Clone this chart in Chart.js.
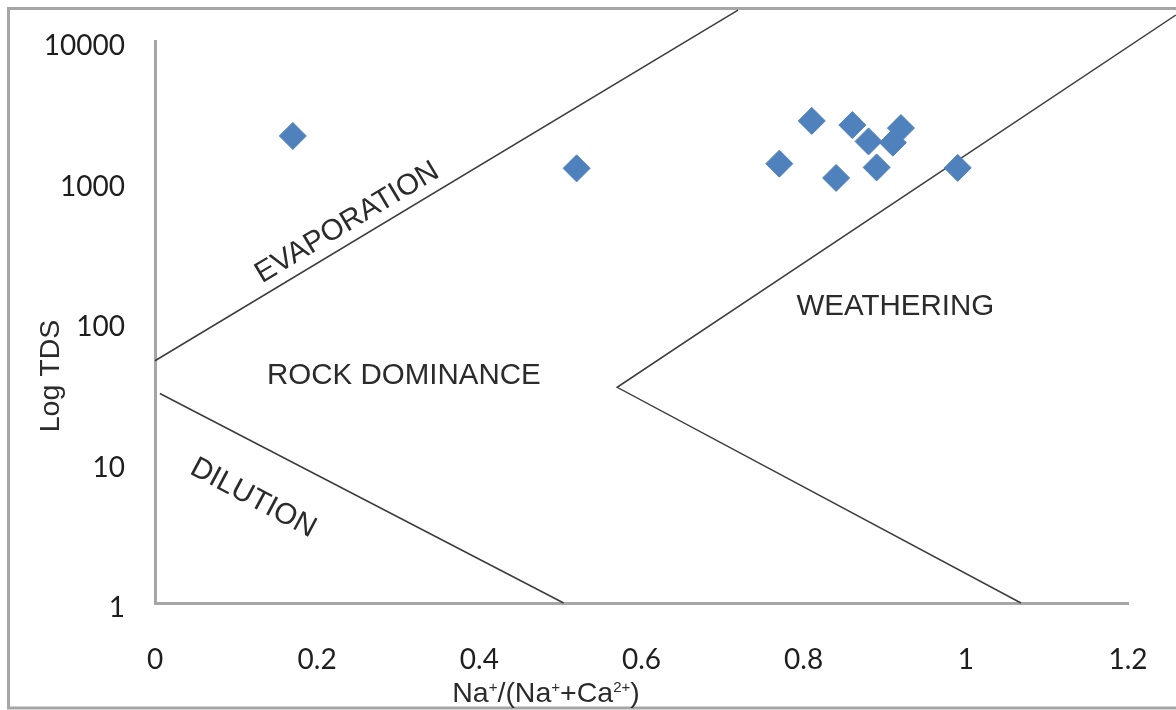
<!DOCTYPE html>
<html>
<head>
<meta charset="utf-8">
<script src="https://cdn.jsdelivr.net/npm/chart.js@4.4.1/dist/chart.umd.min.js"></script>
<style>
  html, body { margin: 0; padding: 0; background: #fff; }
  #wrap { width: 1176px; height: 710px; }
</style>
</head>
<body>
<div id="wrap"><canvas id="gibbs" width="1176" height="710"></canvas></div>
<script>
// Sample points (Na+/(Na+ + Ca2+), TDS)
const ratioValues = [0.17, 0.52, 0.77, 0.81, 0.86, 0.88, 0.84, 0.89, 0.92, 0.91, 0.99];
const tdsValues = [2110, 1240, 1340, 2700, 2520, 1930, 1060, 1260, 2400, 1890, 1250];

// Boundary lines of the Gibbs diagram
const evaporationLine = [[0, 53], [0.719, 16600]];
const dilutionLine = [[0.006, 31], [0.504, 1]];
const weatheringLine = [[1.259, 15300], [0.570, 34.3], [1.068, 1]];

// Axis ticks
const xTicks = [0, 0.2, 0.4, 0.6, 0.8, 1, 1.2];
const yTicks = [1, 10, 100, 1000, 10000];

// Zone labels: text, x, y, angle (deg)
const zoneLabels = [
  ["ROCK DOMINANCE", 0.307, 41.7, 0],
  ["WEATHERING", 0.913, 129, 0],
  ["EVAPORATION", 0.237, 509, -31],
  ["DILUTION", 0.121, 5.57, 28],
];

const toPoints = (arr) => arr.map((p) => ({ x: p[0], y: p[1] }));

function lineDataset(points) {
  return {
    type: "line",
    data: toPoints(points),
    borderColor: "#3c3c3c",
    borderWidth: 1.5,
    pointRadius: 0,
    fill: false,
    tension: 0,
    clip: false,
  };
}

// frame, zone labels and axis titles
const decorPlugin = {
  id: "decor",
  beforeDraw(chart) {
    const ctx = chart.ctx;
    ctx.save();
    ctx.strokeStyle = "#a6a6a6";
    ctx.lineWidth = 3;
    ctx.beginPath();
    ctx.moveTo(1180, 8.5);
    ctx.lineTo(8.5, 8.5);
    ctx.lineTo(8.5, 708);
    ctx.lineTo(1180, 708);
    ctx.stroke();
    ctx.restore();
  },
  afterDraw(chart) {
    const ctx = chart.ctx;
    const xs = chart.scales.x;
    const ys = chart.scales.y;
    ctx.save();
    ctx.fillStyle = "#2b2b2b";
    ctx.textAlign = "center";
    ctx.textBaseline = "middle";
    ctx.font = '29.5px "Liberation Sans", Arial, sans-serif';
    zoneLabels.forEach(([text, x, y, angle]) => {
      ctx.save();
      ctx.translate(xs.getPixelForValue(x), ys.getPixelForValue(y));
      ctx.rotate((angle * Math.PI) / 180);
      ctx.fillText(text, 0, 0);
      ctx.restore();
    });

    // y title
    ctx.save();
    ctx.translate(51, 376);
    ctx.rotate(-Math.PI / 2);
    ctx.font = '28.5px "Liberation Sans", Arial, sans-serif';
    ctx.fillText("Log TDS", 0, 0);
    ctx.restore();

    // x title with superscripts
    const parts = [["Na", 0], ["+", 1], ["/(Na", 0], ["+", 1], ["+Ca", 0], ["2+", 1], [")", 0]];
    const mainFont = '28.5px "Liberation Sans", Arial, sans-serif';
    const supFont = '15px "Liberation Sans", Arial, sans-serif';
    let total = 0;
    parts.forEach(([t, sup]) => {
      ctx.font = sup ? supFont : mainFont;
      total += ctx.measureText(t).width;
    });
    let cx = 546 - total / 2;
    ctx.textAlign = "left";
    ctx.textBaseline = "alphabetic";
    parts.forEach(([t, sup]) => {
      ctx.font = sup ? supFont : mainFont;
      ctx.fillText(t, cx, sup ? 692 : 702);
      cx += ctx.measureText(t).width;
    });
    ctx.restore();
  },
};

const ctx = document.getElementById("gibbs").getContext("2d");
const gibbsChart = new Chart(ctx, {
  type: "scatter",
  data: {
    datasets: [
      {
        label: "Samples",
        data: ratioValues.map((x, i) => ({ x: x, y: tdsValues[i] })),
        backgroundColor: "#4f81bd",
        borderColor: "#4f81bd",
        borderWidth: 1,
        pointStyle: "rectRot",
        pointRadius: 13.5,
        pointHoverRadius: 13.5,
      },
      lineDataset(evaporationLine),
      lineDataset(dilutionLine),
      lineDataset(weatheringLine),
    ],
  },
  options: {
    responsive: false,
    animation: false,
    layout: { padding: { left: 0, top: 41, right: 48, bottom: 0 } },
    plugins: {
      legend: { display: false },
      tooltip: { enabled: false },
    },
    scales: {
      x: {
        type: "linear",
        min: 0,
        max: 1.2,
        afterBuildTicks: (scale) => {
          scale.ticks = xTicks.map((v) => ({ value: v }));
        },
        afterFit: (scale) => {
          scale.height = 107;
          scale.paddingLeft = 0;
          scale.paddingRight = 0;
        },
        grid: { display: false, drawTicks: false },
        border: { display: true, color: "#a6a6a6", width: 3 },
        ticks: {
          padding: 40,
          color: "#1e1e1e",
          font: { family: "Lato, 'Liberation Sans', sans-serif", size: 28 },
          callback: (v) => String(+Number(v).toFixed(1)),
        },
      },
      y: {
        type: "logarithmic",
        min: 1,
        max: 10000,
        afterBuildTicks: (scale) => {
          scale.ticks = yTicks.map((v) => ({ value: v }));
        },
        afterFit: (scale) => {
          scale.width = 155;
          scale.paddingTop = 0;
          scale.paddingBottom = 0;
        },
        grid: { display: false, drawTicks: false },
        border: { display: true, color: "#a6a6a6", width: 3 },
        ticks: {
          padding: 30,
          labelOffset: 5,
          color: "#1e1e1e",
          font: { family: "Lato, 'Liberation Sans', sans-serif", size: 28 },
          callback: (v) => String(v),
        },
      },
    },
  },
  plugins: [decorPlugin],
});
</script>
</body>
</html>
